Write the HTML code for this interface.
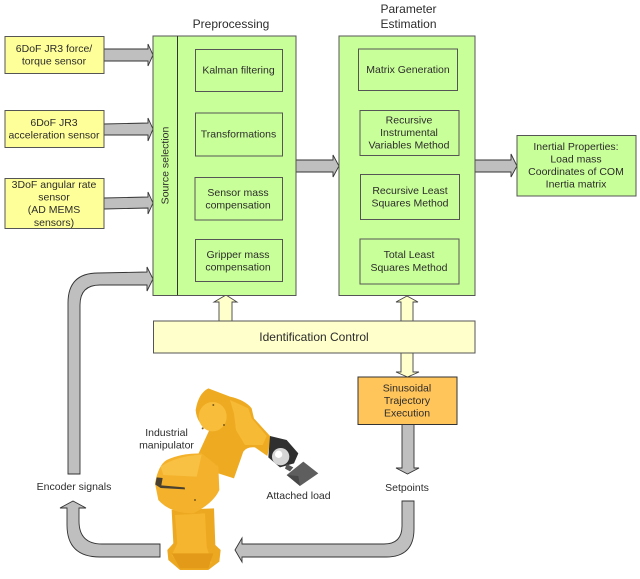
<!DOCTYPE html>
<html><head><meta charset="utf-8"><style>
html,body{margin:0;padding:0;background:#fff}
svg{display:block;filter:blur(.3px)}
text{font-family:"Liberation Sans",sans-serif;font-size:10.5px;fill:#2c2c2c;text-anchor:middle}
.b{stroke:#555;stroke-width:1}
.g{fill:#c9ff99}
.a{fill:#bfbfbf;stroke:#333;stroke-width:.9}
.y{fill:#ffffcc;stroke:#444;stroke-width:.9}
</style></head><body>
<svg width="640" height="579" viewBox="0 0 640 579" xmlns="http://www.w3.org/2000/svg">
<rect width="640" height="579" fill="#fff"/>
<!-- gray arrows -->
<path class="a" d="M104 49L148 49L148 44L153 55L148 66L148 61L104 61Z"/>
<path class="a" d="M104 124L148 123L148 118L153 129L148 141L148 135L104 135Z"/>
<path class="a" d="M104 198L148 197L148 192L153 203L148 214L148 208L104 209Z"/>
<path class="a" d="M68 474L68 303Q68 273 98 273L147 272L147 267L153 279L147 291L147 285L100 285Q80 285 80 305L80 474Z"/>
<path class="a" d="M160 544L102 544Q79 544 79 521L79 508L86 508L73 501L60 508L67 508L67 525Q67 557 100 557L160 557Z"/>
<path class="a" d="M296 160L333 160L333 155L339 166L333 177L333 172L296 172Z"/>
<path class="a" d="M475 160L511 160L511 154L517 166L511 177L511 172L475 172Z"/>
<path class="a" d="M402 424L402 468L396 468L407.500 474L419 468L414 468L414 424Z"/>
<path class="a" d="M402 501L402 526Q402 544 384 544L242 544L242 538L235 550L242 562L242 557L386 557Q414 557 414 529L414 501Z"/>
<!-- yellow arrows -->
<path class="y" d="M219 321L219 302L214 302L226 295L237 302L232 302L232 321Z"/>
<path class="y" d="M401 321L401 302L396 302L407 296L418 302L413 302L413 321Z"/>
<path class="y" d="M401 353L401 372L396 372L407.500 377L419 372L413 372L413 353Z"/>
<!-- sensor boxes -->
<rect class="b" x="5" y="36.500" width="99" height="37" fill="#ffff99"/>
<rect class="b" x="5" y="110.500" width="99" height="37" fill="#ffff99"/>
<rect class="b" x="5" y="178.500" width="99" height="50" fill="#ffff99"/>
<!-- preprocessing -->
<rect class="b g" x="153" y="36" width="143" height="259.500"/>
<line x1="177.500" y1="36" x2="177.500" y2="295" stroke="#333"/>
<rect class="b g" x="195.500" y="49.500" width="87" height="42" stroke="#444"/>
<rect class="b g" x="195.500" y="113" width="87" height="43"/>
<rect class="b g" x="195" y="177.500" width="87.500" height="42.500"/>
<rect class="b g" x="195.500" y="239.500" width="87" height="42"/>
<!-- parameter -->
<rect class="b g" x="339" y="36" width="136" height="259.500"/>
<rect class="b g" x="358.500" y="49" width="99" height="41.500"/>
<rect class="b g" x="360" y="110.500" width="99" height="45"/>
<rect class="b g" x="360.500" y="174.500" width="99" height="45"/>
<rect class="b g" x="360" y="239" width="99" height="45"/>
<!-- output -->
<rect class="b g" x="517" y="135.500" width="119" height="60.500"/>
<!-- control -->
<rect x="153.500" y="321" width="321.500" height="32" fill="#ffffcc" stroke="#555"/>
<rect x="358" y="377" width="99" height="47.500" fill="#ffc45a" stroke="#333"/>
<!-- robot -->
<g transform="translate(130 350) scale(.3333)">
<path fill="#eda821" d="M125 480L252 475L256 585L272 600L268 635L235 660L150 660L115 630L112 600L130 580Z"/>
<path fill="#f5b52f" d="M135 495L225 490L230 590L245 640L150 650L125 615L142 580Z"/>
<path fill="#e39a18" d="M125 610L250 610L235 655L150 655Z"/>
<path fill="#eeab22" d="M197 180Q205 130 235 115L300 140Q345 150 365 175L372 205L424 262L412 318L375 292Q350 290 340 305L312 385L265 370L205 312L238 240Q200 222 197 180Z"/>
<ellipse cx="248" cy="200" rx="42" ry="44" fill="#f8bd3a"/>
<path fill="#f7ba35" d="M300 150L355 175L365 205L410 258L398 285L345 285L318 240L312 190Z"/>
<path fill="#f4b22c" d="M75 400Q85 345 110 330Q150 310 215 310L265 350L268 420Q250 460 190 490Q120 490 85 450Z"/>
<path fill="#f8c144" d="M92 350Q140 318 215 314L200 380L100 375Z"/>
<path fill="#2f2f2f" d="M420 258L470 270L505 310L492 340L450 352L415 322Z"/>
<circle cx="452" cy="320" r="26" fill="#d6d6d6"/>
<circle cx="446" cy="313" r="11" fill="#fff"/>
<path fill="#555" d="M470 342L490 352L480 364L465 356Z"/>
<path fill="#5e5e5e" d="M470 375L520 335L565 370L510 408Z"/>
<path fill="#484848" d="M470 375L505 378L510 408Z"/>
<path fill="#4a4030" d="M80 382L98 384L94 406L164 412L165 418L92 414L76 404Z"/>
<circle cx="250" cy="165" r="3" fill="#7a5a20"/><circle cx="282" cy="225" r="3" fill="#7a5a20"/><circle cx="218" cy="235" r="3" fill="#7a5a20"/><circle cx="195" cy="450" r="3" fill="#7a5a20"/>
</g>
<!-- text -->
<text x="231" y="28" style="font-size:12px">Preprocessing</text>
<text x="408.500" y="13" style="font-size:12px">Parameter</text>
<text x="408.500" y="28" style="font-size:12px">Estimation</text>
<text x="54" y="52">6DoF JR3 force/</text><text x="54" y="64.500">torque sensor</text>
<text x="54" y="126">6DoF JR3</text><text x="54" y="138.500">acceleration sensor</text>
<text x="54" y="188">3DoF angular rate</text><text x="54" y="200.500">sensor</text><text x="54" y="213">(AD MEMS</text><text x="54" y="226">sensors)</text>
<text transform="translate(168.500 165.500) rotate(-90)">Source selection</text>
<text x="238.500" y="73.500">Kalman filtering</text>
<text x="238.500" y="137.500">Transformations</text>
<text x="238" y="196">Sensor mass</text><text x="238" y="208.500">compensation</text>
<text x="238" y="258">Gripper mass</text><text x="238" y="270.500">compensation</text>
<text x="408" y="73">Matrix Generation</text>
<text x="409" y="123.500">Recursive</text><text x="409" y="136">Instrumental</text><text x="409" y="148.500">Variables Method</text>
<text x="410" y="194">Recursive Least</text><text x="410" y="206.500">Squares Method</text>
<text x="409" y="258">Total Least</text><text x="409" y="271">Squares Method</text>
<text x="576" y="150">Inertial Properties:</text><text x="576" y="162.500">Load mass</text><text x="576" y="175">Coordinates of COM</text><text x="576" y="187.500">Inertia matrix</text>
<text x="314" y="341" style="font-size:12px">Identification Control</text>
<text x="407" y="391.500">Sinusoidal</text><text x="407" y="404">Trajectory</text><text x="407" y="416.500">Execution</text>
<text x="407" y="491">Setpoints</text>
<text x="74" y="490">Encoder signals</text>
<text x="166.500" y="436">Industrial</text><text x="166.500" y="448.500">manipulator</text>
<text x="298.500" y="499">Attached load</text>
</svg>
</body></html>
